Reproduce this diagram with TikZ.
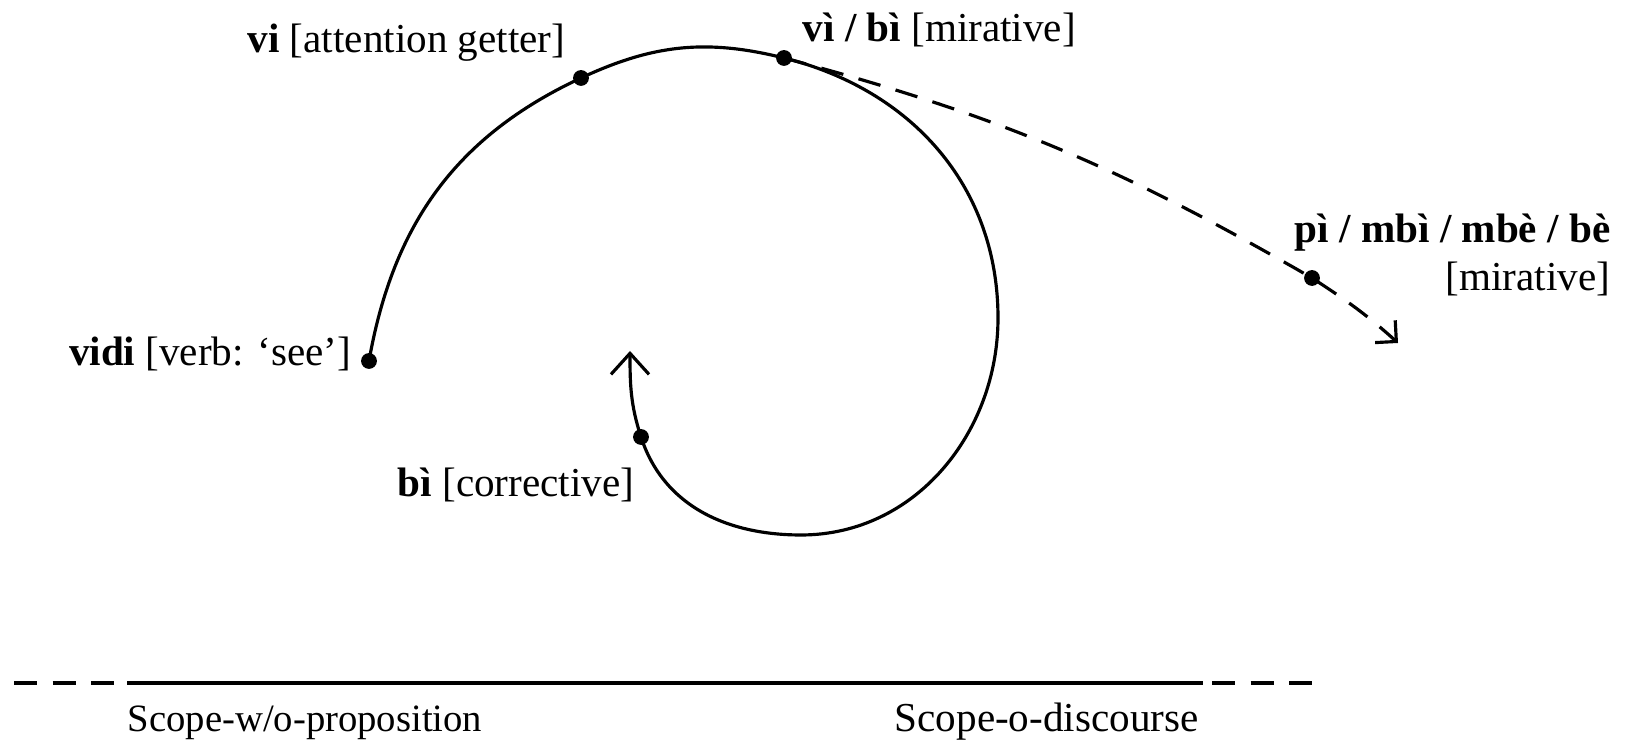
\documentclass[tikz,border=0pt]{standalone}
\usepackage{fontspec}
\setmainfont{Liberation Serif}
\usetikzlibrary{arrows.meta, positioning, calc}

\begin{document}
\begin{tikzpicture}[
    x=0.01cm, y=0.01cm,
    dot/.style={circle, fill, inner sep=0pt, minimum size=4.5pt},
    lbl/.style={inner sep=0pt, font=\fontsize{11.7}{13.5}\selectfont},
    spiral/.style={line width=0.9pt},
    barb/.style={-{Straight Barb[length=2.1mm, width=3.8mm, line width=0.9pt]}},
    sbarb/.style={-{Straight Barb[length=1.5mm, width=3mm, line width=0.9pt]}},
    dashline/.style={line width=0.9pt, dash pattern=on 6.5pt off 4.5pt}
]
    \useasboundingbox (0,0) rectangle (1630,743);

    % points on the spiral
    \node[dot] (vidi) at (369,382) {};
    \node[dot] (vi) at (581,665) {};
    \node[dot] (vibi) at (784,685) {};
    \coordinate (right) at (998,425);
    \coordinate (bottom) at (801,208);
    \node[dot] (bi) at (641,306) {};
    \coordinate (tip) at (630,392);
    \node[dot] (pi) at (1312,465) {};
    \coordinate (end) at (1398,400);

    \node[lbl, anchor=base east] (vidilbl) at (352,377) {\textbf{vidi} [verb: ‘see’]};
    \node[lbl, anchor=base east] (vilbl) at (566,690) {\textbf{vi} [attention getter]};
    \node[lbl, anchor=base west] (vibilbl) at (802,701) {\textbf{vì / bì} [mirative]};
    \node[lbl, anchor=base east] (bilbl) at (635,246) {\textbf{bì} [corrective]};
    \node[lbl, anchor=base east] (pilbl) at (1611,500) {\textbf{pì / mbì / mbè / bè}};
    \node[lbl, anchor=base east] (mirlbl) at (1611,452) {[mirative]};

    \draw[spiral, barb] (vidi.center) to[out=80, in=205] (vi.center)
        to[out=25, in=166] (vibi.center) to[out=-14, in=90] (right)
        to[out=-90, in=0] (bottom) to[out=180, in=-72] (bi.center)
        to[out=108, in=-90] (tip);
    \draw[dashline, sbarb] (vibi.center) to[out=-15, in=150] (pi.center)
        to[out=-33, in=138] (end);

    % scope axis
    \coordinate (a0) at (14,60);
    \coordinate (a1) at (121,60);
    \coordinate (a2) at (127,60);
    \coordinate (a3) at (1203,60);
    \coordinate (a4) at (1212,60);
    \coordinate (a5) at (1315,60);
    \draw[dashline] (a0) -- (a1);
    \draw[line width=1pt] (a2) -- (a3);
    \draw[dashline] (a4) -- (a5);
    \node[lbl, anchor=base west, font=\fontsize{11}{13}\selectfont] (wop) at (127,11) {Scope-w/o-proposition};
    \node[lbl, anchor=base west] (odis) at (894,11) {Scope-o-discourse};
\end{tikzpicture}
\end{document}
